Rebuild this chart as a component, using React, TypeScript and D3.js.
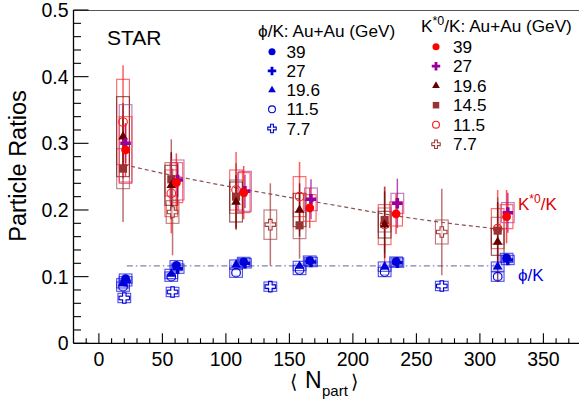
import * as d3 from "d3"

const FONT = "'Liberation Sans', Arial, Helvetica, sans-serif"

// K*0/K in Au+Au, one set of arrays per beam energy
const ks39Npart = [21, 61, 114, 166, 234, 321]
const ks39Ratio = [0.29, 0.241, 0.226, 0.203, 0.194, 0.19]
const ks39Stat = [0.04, 0.044, 0.04, 0.03, 0.03, 0.04]
const ks39Sys = [0.05, 0.03, 0.03, 0.02, 0.018, 0.018]

const ks27Npart = [21, 62, 115, 167, 235, 322]
const ks27Ratio = [0.3, 0.245, 0.228, 0.216, 0.21, 0.196]
const ks27Stat = [0.03, 0.025, 0.025, 0.03, 0.037, 0.03]
const ks27Sys = [0.058, 0.03, 0.03, 0.017, 0.015, 0.015]

const ks196Npart = [19, 57, 108, 158, 225, 314]
const ks196Ratio = [0.31, 0.237, 0.212, 0.2, 0.178, 0.152]
const ks196Stat = [0.05, 0.05, 0.04, 0.04, 0.05, 0.06]
const ks196Sys = [0.06, 0.03, 0.03, 0.025, 0.02, 0.02]

const ks145Npart = [19, 57, 108, 158, 225, 314]
const ks145Ratio = [0.262, 0.246, 0.22, 0.177, 0.185, 0.169]
const ks145Stat = [0.08, 0.06, 0.05, 0.05, 0.05, 0.05]
const ks145Sys = [0.03, 0.025, 0.025, 0.02, 0.018, 0.02]

const ks115Npart = [19, 57, 108, 158, 225, 314]
const ks115Ratio = [0.332, 0.225, 0.23, 0.22, 0.178, 0.172]
const ks115Stat = [0.085, 0.06, 0.057, 0.052, 0.057, 0.058]
const ks115Sys = [0.064, 0.035, 0.03, 0.03, 0.03, 0.03]

const ks77Npart = [58, 135, 270]
const ks77Ratio = [0.197, 0.178, 0.167]
const ks77Stat = [0.065, 0.062, 0.065]
const ks77Sys = [0.017, 0.022, 0.018]

// phi/K in Au+Au
const phi39Npart = [21, 61, 114, 166, 234, 321]
const phi39Ratio = [0.097, 0.117, 0.122, 0.124, 0.1225, 0.128]
const phi27Npart = [21, 62, 115, 167, 235, 322]
const phi27Ratio = [0.093, 0.112, 0.12, 0.122, 0.121, 0.125]
const phi196Npart = [19, 57, 108, 158, 225, 314]
const phi196Ratio = [0.09, 0.104, 0.118, 0.116, 0.115, 0.115]
const phi115Npart = [19, 57, 108, 158, 225, 314]
const phi115Ratio = [0.085, 0.1, 0.106, 0.11, 0.107, 0.1]
const phi77Npart = [20, 58, 135, 270]
const phi77Ratio = [0.068, 0.077, 0.085, 0.086]

// fit curves
const ksFitNpart = [20, 44, 123, 177, 238, 280, 312]
const ksFitRatio = [0.268, 0.2575, 0.228, 0.21, 0.19, 0.179, 0.172]
const phiFitNpart = [22, 315]
const phiFitRatio = [0.116, 0.116]

const xTicks = [0, 50, 100, 150, 200, 250, 300, 350]
const yTicks = [0, 0.1, 0.2, 0.3, 0.4, 0.5]
const yTickLabels = ["0", "0.1", "0.2", "0.3", "0.4", "0.5"]

type Shape = "circle" | "plus" | "triangle" | "square" | "ocircle" | "ocross"

interface Series {
  label: string
  color: string
  boxColor: string
  shape: Shape
  npart: number[]
  ratio: number[]
  stat: number[]
  sys: number[]
}

const ksSeries: Series[] = [
  { label: "11.5", color: "#ff1a1a", boxColor: "#ff3030", shape: "ocircle", npart: ks115Npart, ratio: ks115Ratio, stat: ks115Stat, sys: ks115Sys },
  { label: "7.7", color: "#a33a3a", boxColor: "#a84848", shape: "ocross", npart: ks77Npart, ratio: ks77Ratio, stat: ks77Stat, sys: ks77Sys },
  { label: "14.5", color: "#993333", boxColor: "#a55555", shape: "square", npart: ks145Npart, ratio: ks145Ratio, stat: ks145Stat, sys: ks145Sys },
  { label: "19.6", color: "#660000", boxColor: "#6a1a1a", shape: "triangle", npart: ks196Npart, ratio: ks196Ratio, stat: ks196Stat, sys: ks196Sys },
  { label: "27", color: "#990099", boxColor: "#aa44aa", shape: "plus", npart: ks27Npart, ratio: ks27Ratio, stat: ks27Stat, sys: ks27Sys },
  { label: "39", color: "#ff0000", boxColor: "#ff2a2a", shape: "circle", npart: ks39Npart, ratio: ks39Ratio, stat: ks39Stat, sys: ks39Sys },
]

const BLUE = "#0000d8"
const phiSys = 0.007
const phiSeries = [
  { label: "7.7", shape: "ocross" as Shape, npart: phi77Npart, ratio: phi77Ratio },
  { label: "11.5", shape: "ocircle" as Shape, npart: phi115Npart, ratio: phi115Ratio },
  { label: "19.6", shape: "triangle" as Shape, npart: phi196Npart, ratio: phi196Ratio },
  { label: "27", shape: "plus" as Shape, npart: phi27Npart, ratio: phi27Ratio },
  { label: "39", shape: "circle" as Shape, npart: phi39Npart, ratio: phi39Ratio },
]

const ksLegendOrder = ["39", "27", "19.6", "14.5", "11.5", "7.7"]
const phiLegendOrder = ["39", "27", "19.6", "11.5", "7.7"]

function Marker({ shape, color, cx, cy, k = 1 }: { shape: Shape; color: string; cx: number; cy: number; k?: number }) {
  const t = `translate(${cx},${cy})`
  if (shape === "circle") return <circle cx={cx} cy={cy} r={4.4 * k} fill={color} />
  if (shape === "ocircle") return <circle cx={cx} cy={cy} r={4.3 * k} fill="none" stroke={color} strokeWidth={1.1} />
  const sym =
    shape === "triangle" ? d3.symbolTriangle : shape === "square" ? d3.symbolSquare : d3.symbolCross
  const size = shape === "triangle" ? 40 : shape === "square" ? 66 : 62
  const d = d3.symbol(sym, size * k * k)() as string
  if (shape === "ocross") return <path d={d} transform={t} fill="white" fillOpacity={0.6} stroke={color} strokeWidth={1.1} />
  return <path d={d} transform={t} fill={color} />
}

export default function App() {
  const W = 579
  const H = 400
  const x = d3.scaleLinear().domain([-20, 380]).range([73.5, 581.5])
  const y = d3.scaleLinear().domain([0, 0.5]).range([343.3, 10])
  const halfBox = x(5) - x(0)

  const line = d3
    .line<[number, number]>()
    .x((d) => x(d[0]))
    .y((d) => y(d[1]))
    .curve(d3.curveMonotoneX)

  const xMinor = d3.range(-10, 381, 10)
  const yMinor = d3.range(0, 0.5001, 0.02)

  const ksByLabel = new Map(ksSeries.map((s) => [s.label, s]))
  const phiByLabel = new Map(phiSeries.map((s) => [s.label, s]))

  return (
    <svg
      width={W}
      height={H}
      viewBox={`0 0 ${W} ${H}`}
      style={{ position: "absolute", left: 0, top: 0, background: "white" }}
      fontFamily={FONT}
    >
      {/* fits */}
      <path
        d={line(ksFitNpart.map((n, i) => [n, ksFitRatio[i]])) || ""}
        fill="none"
        stroke="#8a5252"
        strokeWidth={1.2}
        strokeDasharray="4,3"
      />
      <path
        d={line(phiFitNpart.map((n, i) => [n, phiFitRatio[i]])) || ""}
        fill="none"
        stroke="#8080b4"
        strokeWidth={1.2}
        strokeDasharray="6,3,1.5,3"
      />

      {/* K*0/K systematic boxes and stat bars */}
      {ksSeries.map((s) => (
        <g key={"ks" + s.label}>
          {s.npart.map((n, i) => (
            <rect
              key={"b" + i}
              x={x(n) - halfBox}
              y={y(s.ratio[i] + s.sys[i])}
              width={halfBox * 2}
              height={y(s.ratio[i] - s.sys[i]) - y(s.ratio[i] + s.sys[i])}
              fill="none"
              stroke={s.boxColor}
              strokeOpacity={0.75}
              strokeWidth={1.1}
            />
          ))}
          {s.npart.map((n, i) => (
            <line
              key={"e" + i}
              x1={x(n)}
              x2={x(n)}
              y1={y(s.ratio[i] + s.stat[i])}
              y2={y(s.ratio[i] - s.stat[i])}
              stroke={s.color}
              strokeOpacity={0.7}
              strokeWidth={1.5}
            />
          ))}
        </g>
      ))}

      {/* phi/K boxes */}
      {phiSeries.map((s) => (
        <g key={"pb" + s.label}>
          {s.npart.map((n, i) => (
            <g key={i}>
              <rect
                x={x(n) - halfBox}
                y={y(s.ratio[i] + phiSys)}
                width={halfBox * 2}
                height={y(s.ratio[i] - phiSys) - y(s.ratio[i] + phiSys)}
                fill="none"
                stroke="#2020e0"
                strokeOpacity={0.8}
                strokeWidth={1.1}
              />
              <rect
                x={x(n) - halfBox + 2}
                y={y(s.ratio[i] + phiSys) + 2}
                width={halfBox * 2 - 4}
                height={y(s.ratio[i] - phiSys) - y(s.ratio[i] + phiSys) - 4}
                fill="none"
                stroke="#6060f0"
                strokeOpacity={0.5}
                strokeWidth={0.8}
              />
            </g>
          ))}
        </g>
      ))}

      {/* markers */}
      {phiSeries.map((s) =>
        s.npart.map((n, i) => (
          <Marker key={"pm" + s.label + i} shape={s.shape} color={BLUE} cx={x(n)} cy={y(s.ratio[i])} />
        )),
      )}
      {ksSeries.map((s) =>
        s.npart.map((n, i) => (
          <Marker key={"km" + s.label + i} shape={s.shape} color={s.color} cx={x(n)} cy={y(s.ratio[i])} />
        )),
      )}

      {/* frame and axes */}
      <line x1={x(-20)} x2={x(380)} y1={y(0.5) + 0.5} y2={y(0.5) + 0.5} stroke="#555" strokeWidth={1} />
      <line x1={x(-20)} x2={x(-20)} y1={y(0.5)} y2={y(0)} stroke="black" strokeWidth={1.3} />
      <line x1={x(-20)} x2={x(380)} y1={y(0)} y2={y(0)} stroke="black" strokeWidth={1.3} />
      {xMinor.map((v) => {
        const major = v % 50 === 0
        return (
          <line
            key={"xt" + v}
            x1={x(v)}
            x2={x(v)}
            y1={y(0)}
            y2={y(0) - (major ? 10 : 5)}
            stroke="black"
            strokeWidth={1.1}
          />
        )
      })}
      {yMinor.map((v, i) => {
        const major = i % 5 === 0
        return (
          <line
            key={"yt" + i}
            x1={x(-20)}
            x2={x(-20) + (major ? 15 : 7.5)}
            y1={y(v)}
            y2={y(v)}
            stroke="black"
            strokeWidth={1.1}
          />
        )
      })}
      {xTicks.map((v) => (
        <text key={"xl" + v} x={x(v)} y={366} fontSize={19.5} textAnchor="middle">
          {v}
        </text>
      ))}
      {yTicks.map((v, i) => (
        <text key={"yl" + v} x={68.5} y={y(v)} dy="0.36em" fontSize={19.5} textAnchor="end">
          {yTickLabels[i]}
        </text>
      ))}

      {/* axis titles */}
      <text transform="translate(26,166) rotate(-90)" fontSize={23.5} textAnchor="middle">
        Particle Ratios
      </text>
      <text y={388} fontSize={23}>
        <tspan x={290} fontFamily="'DejaVu Sans', sans-serif" fontSize={19}>⟨</tspan>
        <tspan x={305}>N</tspan>
        <tspan x={322} dy={8} fontSize={15}>part</tspan>
        <tspan x={351} dy={-8} fontFamily="'DejaVu Sans', sans-serif" fontSize={19}>⟩</tspan>
      </text>

      <text x={107} y={45} fontSize={21}>STAR</text>

      {/* phi/K legend */}
      <text x={258} y={37} fontSize={17.2}>ϕ/K: Au+Au (GeV)</text>
      {phiLegendOrder.map((lab, i) => {
        const s = phiByLabel.get(lab)!
        const cy = 51.7 + i * 19.2
        return (
          <g key={"pl" + lab}>
            <Marker shape={s.shape} color={BLUE} cx={272} cy={cy} k={0.8} />
            <text x={286.5} y={cy + 6} fontSize={17.2}>{lab}</text>
          </g>
        )
      })}

      {/* K*0/K legend */}
      <text x={421} y={32} fontSize={17.2}>
        K<tspan dy={-7} fontSize={12.5}>*0</tspan>
        <tspan dy={7}>/K: Au+Au (GeV)</tspan>
      </text>
      {ksLegendOrder.map((lab, i) => {
        const s = ksByLabel.get(lab)!
        const cy = 46.7 + i * 19.5
        return (
          <g key={"kl" + lab}>
            <Marker shape={s.shape} color={s.color} cx={436} cy={cy} k={0.8} />
            <text x={453} y={cy + 6} fontSize={17.2}>{lab}</text>
          </g>
        )
      })}

      {/* curve labels */}
      <text x={518} y={210} fontSize={17} fill="#e00000">
        K<tspan dy={-7} fontSize={12}>*0</tspan>
        <tspan dy={7}>/K</tspan>
      </text>
      <text x={518} y={281} fontSize={17} fill={BLUE}>ϕ/K</text>
    </svg>
  )
}
